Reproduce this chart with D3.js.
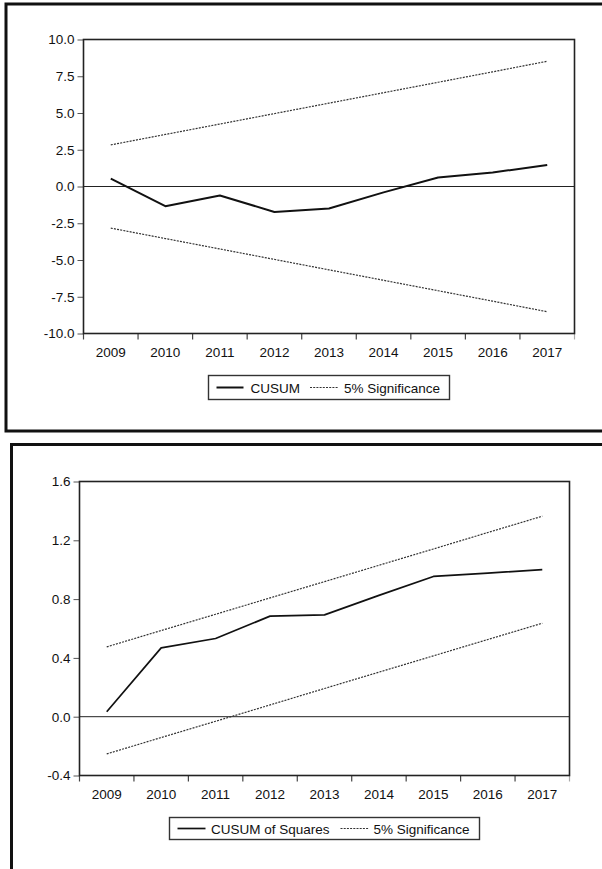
<!DOCTYPE html>
<html>
<head>
<meta charset="utf-8">
<script src="https://cdn.jsdelivr.net/npm/d3@7"></script>
<style>
  html, body { margin: 0; padding: 0; background: #fff; }
  svg { display: block; }
  text { font-family: "Liberation Sans", Arial, sans-serif; fill: #111; }
</style>
</head>
<body>
<svg id="chart" width="602" height="869"></svg>
<script>
// Years on the horizontal axis (shared by both panels)
const years = ["2009", "2010", "2011", "2012", "2013", "2014", "2015", "2016", "2017"];

// CUSUM test: statistic and 5% bands
const cusum      = [0.54, -1.34, -0.61, -1.73, -1.50, -0.40, 0.61, 0.95, 1.47];
const cusumUpper = [2.83, 3.54, 4.25, 4.96, 5.67, 6.38, 7.09, 7.80, 8.52];
const cusumLower = [-2.83, -3.54, -4.25, -4.96, -5.67, -6.38, -7.09, -7.80, -8.52];
const cusumTicks = [-10, -7.5, -5, -2.5, 0, 2.5, 5, 7.5, 10];

// CUSUM of squares test: statistic and 5% bands
const cusumSq      = [0.034, 0.468, 0.532, 0.684, 0.693, 0.825, 0.954, 0.977, 1.0];
const cusumSqUpper = [0.475, 0.586, 0.697, 0.808, 0.919, 1.030, 1.141, 1.253, 1.364];
const cusumSqLower = [-0.253, -0.142, -0.031, 0.080, 0.192, 0.303, 0.414, 0.525, 0.636];
const cusumSqTicks = [-0.4, 0, 0.4, 0.8, 1.2, 1.6];

const svg = d3.select("#chart");
// plain hyphen for negative numbers
const fmt = d3.formatLocale({ decimal: ".", thousands: ",", grouping: [3], currency: ["", ""], minus: "-" }).format(".1f");

function drawPanel(opt) {
  const g = svg.append("g");

  // outer frame of the panel
  g.append("rect")
    .attr("x", opt.frame.x).attr("y", opt.frame.y)
    .attr("width", opt.frame.w).attr("height", opt.frame.h)
    .attr("fill", "none").attr("stroke", "#111").attr("stroke-width", 3);

  const x = d3.scaleBand().domain(years).range([opt.left, opt.right]).padding(0);
  const y = d3.scaleLinear().domain(opt.domain).range([opt.bottom, opt.top]);
  const cx = d => x(d) + x.bandwidth() / 2;

  // y axis ticks and labels
  const yAxis = d3.axisLeft(y).tickValues(opt.ticks).tickSize(6).tickPadding(3).tickFormat(fmt);
  const ya = g.append("g").attr("transform", `translate(${opt.left},0)`).call(yAxis);
  ya.select(".domain").remove();
  ya.selectAll("line").attr("stroke", "#555");
  ya.selectAll("text").attr("font-size", 13.5).attr("fill", "#111")
    .attr("font-family", "Liberation Sans, Arial, sans-serif");

  // x axis: ticks on band edges, labels at band centres
  const edges = years.map(d => x(d)).concat([opt.right]);
  g.selectAll(null).data(edges).enter().append("line")
    .attr("x1", d => d).attr("x2", d => d)
    .attr("y1", opt.bottom).attr("y2", opt.bottom + 6)
    .attr("stroke", (d, i) => i === edges.length - 1 ? "#aaa" : "#444")
    .attr("stroke-width", 1.2);
  g.selectAll(null).data(years).enter().append("text")
    .attr("x", d => cx(d)).attr("y", opt.bottom + 23)
    .attr("text-anchor", "middle").attr("font-size", 13.5)
    .text(d => d);

  // zero reference line
  g.append("line")
    .attr("x1", opt.left).attr("x2", opt.right)
    .attr("y1", y(0)).attr("y2", y(0))
    .attr("stroke", "#222").attr("stroke-width", 1);

  const line = d3.line().x((d, i) => cx(years[i])).y(d => y(d));

  // significance bands (dotted)
  [opt.upper, opt.lower].forEach(s => {
    g.append("path").datum(s).attr("d", line)
      .attr("fill", "none").attr("stroke", "#333")
      .attr("stroke-width", 1.2).attr("stroke-dasharray", "2,1.2");
  });

  // test statistic (solid)
  g.append("path").datum(opt.series).attr("d", line)
    .attr("fill", "none").attr("stroke", "#111")
    .attr("stroke-width", opt.seriesWidth).attr("stroke-linejoin", "round");

  // plot box
  g.append("rect")
    .attr("x", opt.left).attr("y", opt.top)
    .attr("width", opt.right - opt.left).attr("height", opt.bottom - opt.top)
    .attr("fill", "none").attr("stroke", "#222").attr("stroke-width", 1.6);

  // legend
  const L = opt.legend;
  g.append("rect")
    .attr("x", L.x).attr("y", L.y).attr("width", L.w).attr("height", L.h)
    .attr("fill", "#fff").attr("stroke", "#333").attr("stroke-width", 1.4);
  const ly = L.y + L.h / 2;
  g.append("line").attr("x1", L.s1).attr("x2", L.s2).attr("y1", ly).attr("y2", ly)
    .attr("stroke", "#111").attr("stroke-width", opt.seriesWidth);
  g.append("text").attr("x", L.t1).attr("y", ly + 5).attr("font-size", 13.5)
    .text(opt.name);
  g.append("line").attr("x1", L.d1).attr("x2", L.d2).attr("y1", ly).attr("y2", ly)
    .attr("stroke", "#333").attr("stroke-width", 1.2).attr("stroke-dasharray", "2,1.2");
  g.append("text").attr("x", L.t2).attr("y", ly + 5).attr("font-size", 13.5)
    .text("5% Significance");
}

drawPanel({
  frame: { x: 6, y: 4, w: 700, h: 427 },
  left: 83.5, right: 574.5, top: 39.5, bottom: 333.5,
  domain: [-10, 10], ticks: cusumTicks,
  series: cusum, upper: cusumUpper, lower: cusumLower, seriesWidth: 2,
  name: "CUSUM",
  legend: { x: 208.5, y: 375.5, w: 241, h: 24, s1: 216.5, s2: 243.5, t1: 250.5, d1: 310, d2: 338.5, t2: 344 }
});

drawPanel({
  frame: { x: 11.5, y: 444.5, w: 700, h: 500 },
  left: 79.5, right: 569.5, top: 481.5, bottom: 775.5,
  domain: [-0.4, 1.6], ticks: cusumSqTicks,
  series: cusumSq, upper: cusumSqUpper, lower: cusumSqLower, seriesWidth: 1.7,
  name: "CUSUM of Squares",
  legend: { x: 169.5, y: 817.5, w: 310, h: 22, s1: 177.5, s2: 205.5, t1: 211, d1: 340.5, d2: 368.5, t2: 373.5 }
});
</script>
</body>
</html>
